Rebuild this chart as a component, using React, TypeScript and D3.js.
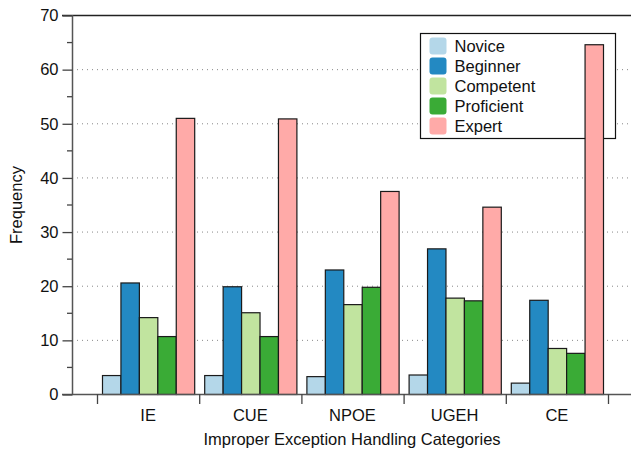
import { useEffect, useRef } from "react";
import * as d3 from "d3";

const categories = ["IE", "CUE", "NPOE", "UGEH", "CE"];
const levels = ["Novice", "Beginner", "Competent", "Proficient", "Expert"];
const novice = [3.5, 3.5, 3.3, 3.6, 2.1];
const beginner = [20.6, 19.9, 23.0, 26.9, 17.4];
const competent = [14.2, 15.1, 16.6, 17.8, 8.5];
const proficient = [10.7, 10.7, 19.8, 17.3, 7.6];
const expert = [51.0, 50.9, 37.5, 34.6, 64.6];
const yTicks = [0, 10, 20, 30, 40, 50, 60, 70];
const colors = ["#b4d7e9", "#2389c2", "#c1e49f", "#3aab36", "#ffaaa8"];

export default function App() {
  const svgRef = useRef<SVGSVGElement>(null);

  useEffect(() => {
    const width = 631;
    const height = 450;
    const left = 72;
    const top = 15;
    const bottom = 394;
    const right = 631;
    const fs = 16.5;

    const series = [novice, beginner, competent, proficient, expert];

    const svg = d3.select(svgRef.current);
    svg.selectAll("*").remove();
    svg.attr("width", width).attr("height", height)
      .style("font-family", "'Liberation Sans', Arial, sans-serif");

    const y = d3.scaleLinear().domain([0, 70]).range([bottom, top]);
    // groups span from 97 to 608
    const x = d3.scaleBand().domain(categories).range([97, 608]).paddingInner(0).paddingOuter(0);
    const gw = x.bandwidth();
    const xs = d3.scaleBand().domain(levels).range([5, gw - 5]).padding(0);

    // dotted grid
    svg.append("g").selectAll("line")
      .data(yTicks.filter(t => t > 0 && t < 70))
      .enter().append("line")
      .attr("x1", left).attr("x2", right)
      .attr("y1", d => y(d) + 0.5).attr("y2", d => y(d) + 0.5)
      .attr("stroke", "#888").attr("stroke-width", 1)
      .attr("stroke-dasharray", "1,4");

    // legend (sits under the bars)
    const lg = svg.append("g").attr("transform", "translate(420.5,33.5)");
    lg.append("rect")
      .attr("width", 195).attr("height", 105)
      .attr("fill", "white").attr("stroke", "#111").attr("stroke-width", 1.2);
    const items = lg.selectAll("g.item")
      .data(levels)
      .enter().append("g")
      .attr("transform", (d, i) => `translate(9,${4 + i * 20})`);
    items.append("rect")
      .attr("width", 17).attr("height", 17).attr("rx", 3)
      .attr("fill", (d, i) => colors[i]);
    items.append("text")
      .attr("x", 25).attr("y", 14)
      .attr("font-size", fs).attr("fill", "#111")
      .text(d => d);

    // bars
    const groups = svg.append("g").selectAll("g")
      .data(categories)
      .enter().append("g")
      .attr("transform", c => `translate(${x(c)},0)`);

    groups.selectAll("rect")
      .data((c, i) => series.map((s, k) => ({ level: levels[k], v: s[i], k })))
      .enter().append("rect")
      .attr("x", d => (xs(d.level) as number) + 0.5)
      .attr("y", d => y(d.v) + 0.5)
      .attr("width", xs.bandwidth())
      .attr("height", d => y(0) - y(d.v))
      .attr("fill", d => colors[d.k])
      .attr("stroke", "#1a1a1a")
      .attr("stroke-width", 1.2);

    // frame lines
    svg.append("line")
      .attr("x1", left - 10).attr("x2", right)
      .attr("y1", top + 0.5).attr("y2", top + 0.5)
      .attr("stroke", "#222").attr("stroke-width", 1.5);
    svg.append("line")
      .attr("x1", left - 10).attr("x2", right)
      .attr("y1", bottom + 0.5).attr("y2", bottom + 0.5)
      .attr("stroke", "#555").attr("stroke-width", 1.5);
    svg.append("line")
      .attr("x1", left + 0.5).attr("x2", left + 0.5)
      .attr("y1", top).attr("y2", bottom)
      .attr("stroke", "#555").attr("stroke-width", 1.5);

    // y axis
    const yAxis = svg.append("g")
      .attr("transform", `translate(${left + 0.5},0.5)`)
      .call(d3.axisLeft(y).tickValues(yTicks).tickSize(10).tickPadding(4));
    yAxis.select(".domain").remove();
    yAxis.selectAll(".tick line").attr("stroke", "#444").attr("stroke-width", 1.3);
    yAxis.selectAll(".tick text")
      .attr("font-size", fs).attr("fill", "#111")
      .attr("font-family", "'Liberation Sans', Arial, sans-serif");

    // minor ticks
    svg.append("g").selectAll("line")
      .data(d3.range(5, 70, 10))
      .enter().append("line")
      .attr("x1", left - 5).attr("x2", left)
      .attr("y1", d => y(d) + 0.5).attr("y2", d => y(d) + 0.5)
      .attr("stroke", "#444").attr("stroke-width", 1.3);

    // x group separators
    const bounds = categories.map(c => x(c) as number).concat([608]);
    svg.append("g").selectAll("line")
      .data(bounds)
      .enter().append("line")
      .attr("x1", d => d + 0.5).attr("x2", d => d + 0.5)
      .attr("y1", bottom).attr("y2", bottom + 10)
      .attr("stroke", "#444").attr("stroke-width", 1.3);

    svg.append("g").selectAll("text")
      .data(categories)
      .enter().append("text")
      .attr("x", c => (x(c) as number) + gw / 2)
      .attr("y", 421)
      .attr("text-anchor", "middle")
      .attr("font-size", fs)
      .attr("fill", "#111")
      .text(c => c);

    svg.append("text")
      .attr("x", 352).attr("y", 445)
      .attr("text-anchor", "middle")
      .attr("font-size", fs).attr("fill", "#111")
      .text("Improper Exception Handling Categories");

    svg.append("text")
      .attr("transform", `translate(22,205) rotate(-90)`)
      .attr("text-anchor", "middle")
      .attr("font-size", fs).attr("fill", "#111")
      .text("Frequency");
  }, []);

  return <svg ref={svgRef} style={{ position: "absolute", left: 0, top: 0 }}></svg>;
}
